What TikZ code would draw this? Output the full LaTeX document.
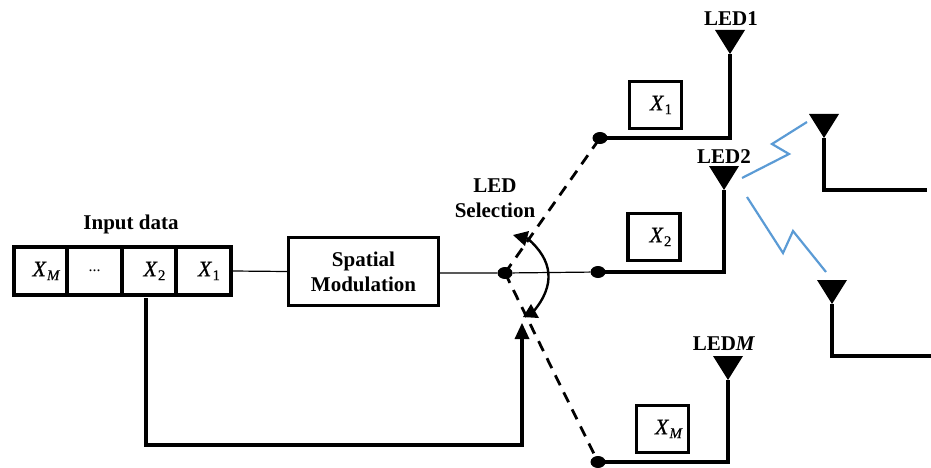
\documentclass[tikz,border=0pt]{standalone}
\usepackage{fontspec}
\setmainfont{Liberation Serif}
\newfontfamily\xfont[FakeBold=0.5]{Liberation Serif}
\usetikzlibrary{shapes.geometric,arrows.meta}
\newcommand{\symx}[1]{\raisebox{-3pt}{{\xfont\itshape X}\hspace{1pt}\raisebox{-4pt}{\xfont\fontsize{15}{15}\selectfont #1}}}
\tikzset{
  cell/.style={draw=black,line width=3.2pt,minimum height=48pt,inner sep=0pt,font=\fontsize{22}{24}\selectfont},
  sym/.style={draw=black,line width=3.2pt,minimum width=52pt,minimum height=47pt,inner sep=0pt,font=\fontsize{22}{24}\selectfont},
  lbl/.style={font=\bfseries\fontsize{21}{25}\selectfont,align=center,inner sep=0pt},
  dot/.style={ellipse,fill=black,minimum width=15pt,minimum height=12pt,inner sep=0pt},
  heavy/.style={line width=3.4pt,line cap=butt,line join=miter},
  thin line/.style={line width=1.2pt},
  sel/.style={line width=2.8pt,dash pattern=on 11pt off 8pt},
  link/.style={draw={rgb,255:red,91;green,155;blue,213},line width=2.2pt},
  tip/.style={fill=black}
}
\begin{document}
\begin{tikzpicture}[x=1pt,y=-1pt]
\useasboundingbox (0,0) rectangle (931,468);
% input register
\node[cell,minimum width=53pt] (xm) at (40.5,271) {\hspace*{11pt}\symx{\itshape M}};
\node[cell,minimum width=55pt] (dots) at (94.5,271) {\fontsize{16}{16}\selectfont ...};
\node[cell,minimum width=54pt] (x2) at (149,271) {\hspace*{11pt}\symx{2}};
\node[cell,minimum width=55pt] (x1) at (203.5,271) {\hspace*{11pt}\symx{1}};
\node[lbl] (inp) at (131,224) {Input data};
% modulator
\node[draw=black,line width=3.2pt,minimum width=150pt,minimum height=68pt,inner sep=0pt,lbl] (sm) at (363.5,271.5) {Spatial\\Modulation};
% switch dots
\node[dot] (d0) at (505,273) {};
\node[dot] (d1) at (600,138) {};
\node[dot] (d2) at (598,272) {};
\node[dot] (d3) at (598,462) {};
% symbol boxes
\node[sym] (s1) at (655.5,105) {\hspace*{11pt}\symx{1}};
\node[sym] (s2) at (654,237) {\hspace*{13pt}\symx{2}};
\node[sym] (s3) at (662.5,429) {\hspace*{12pt}\symx{\itshape M}};
% antenna apexes
\coordinate (a1) at (730,54);
\coordinate (a2) at (724,190);
\coordinate (a3) at (728,380);
\coordinate (r1) at (824,138);
\coordinate (r2) at (832,304);
\foreach \a in {a1,a2,a3,r1,r2}
  \fill[tip] (\a) -- ++(-15,-24) -- ++(30,0) -- cycle;
\node[lbl] (l1) at (731,19) {LED1};
\node[lbl] (l2) at (724,157) {LED2};
\node[lbl] (l3) at (724,344) {LED\textit{M}};
\node[lbl] (ls) at (495,198) {LED\\Selection};
% thin wires
\draw[thin line] (x1.east) -- (sm.west);
\draw[thin line] (sm.east |- d0) -- (d0) -- (d2);
% feeder lines
\draw[heavy] (d1.center) -- (a1 |- d1) -- (a1);
\draw[heavy] (d2.center) -- (a2 |- d2) -- (a2);
\draw[heavy] (d3.center) -- (a3 |- d3) -- (a3);
% receivers
\coordinate (e1) at (927,190);
\coordinate (e2) at (931,356);
\draw[heavy] (r1) -- (r1 |- e1) -- (e1);
\draw[heavy] (r2) -- (r2 |- e2) -- (e2);
% selection
\draw[sel] (d0.center) -- (d1.center);
\draw[sel] (d0.center) -- (d3.center);
\coordinate (ta) at (513,235);
\coordinate (tb) at (531,304);
\draw[line width=2.4pt] (527,238) .. controls (553,260) and (556,285) .. (533,312);
\fill[tip] (ta) -- (529,231) -- (525,246) -- cycle;
\fill[tip] (tb) -- (539,318) -- (523,317) -- cycle;
% feedback
\coordinate (fb) at (522,323);
\draw[heavy] (146,298) -- (146,445) -- (522,445) -- (522,335);
\fill[tip] (fb) -- ++(-7.5,16) -- ++(15,0) -- cycle;
% optical links
\draw[link] (742,178) -- (789,154) -- (772,144) -- (807,122);
\draw[link] (747,197) -- (783,253) -- (793,231) -- (826,272);
\end{tikzpicture}
\end{document}
